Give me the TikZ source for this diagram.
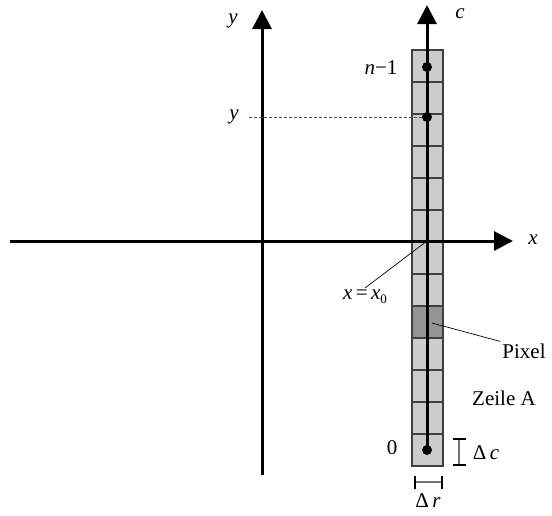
\documentclass[tikz,border=0pt]{standalone}
\usepackage{fontspec}
\setmainfont{Liberation Serif}
\usetikzlibrary{arrows.meta}
\tikzset{
  axis/.style={line width=3pt, -{Triangle[length=19pt,width=19pt]}},
  lbl/.style={font=\fontsize{21}{24}\selectfont, inner sep=2pt},
  cell/.style={draw=black!75, line width=1.4pt, fill=black!20},
  leader/.style={line width=0.7pt},
  dot/.style={circle, fill=black, inner sep=0pt, minimum size=10pt},
  dimbar/.style={draw=black!55, line width=1.2pt,
    {Bar[width=13pt,line width=2.4pt,color=black]}-{Bar[width=13pt,line width=2.4pt,color=black]}},
}
\begin{document}
\begin{tikzpicture}[x=1pt,y=-1pt]
\useasboundingbox (0,0) rectangle (552,515);
% Zeile A
\foreach \i in {0,...,12}
 \draw[cell] (412,50+32*\i) rectangle +(31,32);
\draw[cell, fill=black!42] (412,306) rectangle (443,338);
% axes
\coordinate (xs) at (10,241);
\coordinate (xe) at (513,241);
\coordinate (ys) at (262,475);
\coordinate (ye) at (262,10);
\coordinate (cs) at (427,450);
\coordinate (ce) at (427,5);
\coordinate (orig) at (427,241);
\coordinate (pix) at (432,323);
\draw[axis] (xs) -- (xe);
\draw[axis] (ys) -- (ye);
\draw[axis] (cs) -- (ce);
\node[dot] (dtop) at (427,67) {};
\node[dot] (dy) at (427,117) {};
\node[dot] (dbot) at (427,450) {};
% labels
\node[lbl] (ylab) at (233,21) {\textit{y}};
\node[lbl] (clab) at (460,14) {\textit{c}};
\node[lbl] (xlab) at (533,240) {\textit{x}};
\node[lbl] (nlab) at (381,68) {\textit{n}−1};
\node[lbl] (ylev) at (234,117) {\textit{y}};
\node[lbl] (x0lab) at (365,297) {\textit{x}\,=\,\textit{x}\raisebox{-0.4ex}{\fontsize{13}{14}\selectfont 0}};
\node[lbl] (pixlab) at (524,351) {Pixel};
\node[lbl] (zlab) at (504,398) {Zeile A};
\node[lbl] (zero) at (392,448) {0};
\node[lbl] (dclab) at (486,453) {Δ\,\textit{c}};
\node[lbl] (drlab) at (428,501) {Δ\,\textit{r}};
% leaders
\draw[black!70, line width=0.9pt, dash pattern=on 3pt off 2pt, shorten <=8pt] (ylev.east) -- (dy);
\draw[leader] (x0lab.north) -- (orig);
\draw[leader] (pixlab.north west) -- (pix);
% sizes
\coordinate (dc1) at (459,438);
\coordinate (dc2) at (459,466);
\coordinate (dr1) at (414,482);
\coordinate (dr2) at (443,482);
\draw[dimbar] (dc1) -- (dc2);
\draw[dimbar] (dr1) -- (dr2);
\end{tikzpicture}
\end{document}
